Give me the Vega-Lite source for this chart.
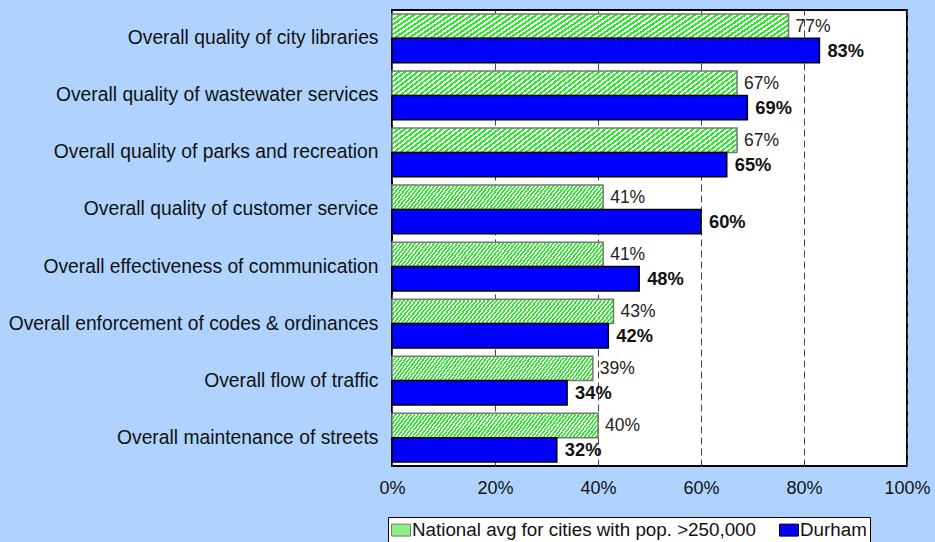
{
  "$schema": "https://vega.github.io/schema/vega-lite/v6.json",
  "width": 515,
  "height": 456,
  "autosize": "none",
  "padding": {"left": 392, "top": 10, "right": 28, "bottom": 76},
  "background": "#afd3fe",
  "config": {
    "view": {"fill": "white", "stroke": "black", "strokeWidth": 2},
    "font": "Liberation Sans"
  },
  "data": {
    "values": [
      {"item": "Overall quality of city libraries", "series": "National avg for cities with pop. >250,000", "value": 0.77},
      {"item": "Overall quality of city libraries", "series": "Durham", "value": 0.83},
      {"item": "Overall quality of wastewater services", "series": "National avg for cities with pop. >250,000", "value": 0.67},
      {"item": "Overall quality of wastewater services", "series": "Durham", "value": 0.69},
      {"item": "Overall quality of parks and recreation\u00a0", "series": "National avg for cities with pop. >250,000", "value": 0.67},
      {"item": "Overall quality of parks and recreation\u00a0", "series": "Durham", "value": 0.65},
      {"item": "Overall quality of customer service", "series": "National avg for cities with pop. >250,000", "value": 0.41},
      {"item": "Overall quality of customer service", "series": "Durham", "value": 0.60},
      {"item": "Overall effectiveness of communication", "series": "National avg for cities with pop. >250,000", "value": 0.41},
      {"item": "Overall effectiveness of communication", "series": "Durham", "value": 0.48},
      {"item": "Overall enforcement of codes & ordinances", "series": "National avg for cities with pop. >250,000", "value": 0.43},
      {"item": "Overall enforcement of codes & ordinances", "series": "Durham", "value": 0.42},
      {"item": "Overall flow of traffic", "series": "National avg for cities with pop. >250,000", "value": 0.39},
      {"item": "Overall flow of traffic", "series": "Durham", "value": 0.34},
      {"item": "Overall maintenance of streets", "series": "National avg for cities with pop. >250,000", "value": 0.40},
      {"item": "Overall maintenance of streets", "series": "Durham", "value": 0.32}
    ]
  },
  "encoding": {
    "y": {
      "field": "item",
      "type": "nominal",
      "sort": null,
      "title": null,
      "scale": {"paddingInner": 0.146, "paddingOuter": 0.07},
      "axis": {
        "ticks": false,
        "domain": false,
        "labelPadding": 14,
        "labelFontSize": 19.3,
        "labelColor": "#111",
        "labelLimit": 0,
        "grid": false
      }
    },
    "yOffset": {
      "field": "series",
      "type": "nominal",
      "sort": ["National avg for cities with pop. >250,000", "Durham"],
      "scale": {"paddingInner": 0, "paddingOuter": 0}
    },
    "x": {
      "field": "value",
      "type": "quantitative",
      "title": null,
      "scale": {"domain": [0, 1], "nice": false},
      "axis": {
        "values": [0, 0.2, 0.4, 0.6, 0.8, 1],
        "format": ".0%",
        "domain": false,
        "grid": true,
        "gridDash": [7, 4],
        "gridColor": "#444",
        "gridWidth": 1,
        "ticks": false,
        "labelPadding": 13,
        "labelFontSize": 18,
        "labelColor": "#111",
        "labelFlush": false
      }
    }
  },
  "layer": [
    {
      "mark": {"type": "bar", "strokeWidth": 1.5},
      "encoding": {
        "color": {
          "condition": {
            "test": "datum.series !== 'Durham'",
            "value": {
              "gradient": "linear", "x1": 0, "y1": 0, "x2": 1.0813, "y2": 0.0973,
              "stops": [
                {"offset":0,"color":"#2e2"},
                {"offset":0.0083,"color":"#2e2"},{"offset":0.0083,"color":"#fff"},{"offset":0.0167,"color":"#fff"},{"offset":0.0167,"color":"#2e2"},
                {"offset":0.025,"color":"#2e2"},{"offset":0.025,"color":"#fff"},{"offset":0.0333,"color":"#fff"},{"offset":0.0333,"color":"#2e2"},
                {"offset":0.0417,"color":"#2e2"},{"offset":0.0417,"color":"#fff"},{"offset":0.05,"color":"#fff"},{"offset":0.05,"color":"#2e2"},
                {"offset":0.0583,"color":"#2e2"},{"offset":0.0583,"color":"#fff"},{"offset":0.0667,"color":"#fff"},{"offset":0.0667,"color":"#2e2"},
                {"offset":0.075,"color":"#2e2"},{"offset":0.075,"color":"#fff"},{"offset":0.0833,"color":"#fff"},{"offset":0.0833,"color":"#2e2"},
                {"offset":0.0917,"color":"#2e2"},{"offset":0.0917,"color":"#fff"},{"offset":0.1,"color":"#fff"},{"offset":0.1,"color":"#2e2"},
                {"offset":0.1083,"color":"#2e2"},{"offset":0.1083,"color":"#fff"},{"offset":0.1167,"color":"#fff"},{"offset":0.1167,"color":"#2e2"},
                {"offset":0.125,"color":"#2e2"},{"offset":0.125,"color":"#fff"},{"offset":0.1333,"color":"#fff"},{"offset":0.1333,"color":"#2e2"},
                {"offset":0.1417,"color":"#2e2"},{"offset":0.1417,"color":"#fff"},{"offset":0.15,"color":"#fff"},{"offset":0.15,"color":"#2e2"},
                {"offset":0.1583,"color":"#2e2"},{"offset":0.1583,"color":"#fff"},{"offset":0.1667,"color":"#fff"},{"offset":0.1667,"color":"#2e2"},
                {"offset":0.175,"color":"#2e2"},{"offset":0.175,"color":"#fff"},{"offset":0.1833,"color":"#fff"},{"offset":0.1833,"color":"#2e2"},
                {"offset":0.1917,"color":"#2e2"},{"offset":0.1917,"color":"#fff"},{"offset":0.2,"color":"#fff"},{"offset":0.2,"color":"#2e2"},
                {"offset":0.2083,"color":"#2e2"},{"offset":0.2083,"color":"#fff"},{"offset":0.2167,"color":"#fff"},{"offset":0.2167,"color":"#2e2"},
                {"offset":0.225,"color":"#2e2"},{"offset":0.225,"color":"#fff"},{"offset":0.2333,"color":"#fff"},{"offset":0.2333,"color":"#2e2"},
                {"offset":0.2417,"color":"#2e2"},{"offset":0.2417,"color":"#fff"},{"offset":0.25,"color":"#fff"},{"offset":0.25,"color":"#2e2"},
                {"offset":0.2583,"color":"#2e2"},{"offset":0.2583,"color":"#fff"},{"offset":0.2667,"color":"#fff"},{"offset":0.2667,"color":"#2e2"},
                {"offset":0.275,"color":"#2e2"},{"offset":0.275,"color":"#fff"},{"offset":0.2833,"color":"#fff"},{"offset":0.2833,"color":"#2e2"},
                {"offset":0.2917,"color":"#2e2"},{"offset":0.2917,"color":"#fff"},{"offset":0.3,"color":"#fff"},{"offset":0.3,"color":"#2e2"},
                {"offset":0.3083,"color":"#2e2"},{"offset":0.3083,"color":"#fff"},{"offset":0.3167,"color":"#fff"},{"offset":0.3167,"color":"#2e2"},
                {"offset":0.325,"color":"#2e2"},{"offset":0.325,"color":"#fff"},{"offset":0.3333,"color":"#fff"},{"offset":0.3333,"color":"#2e2"},
                {"offset":0.3417,"color":"#2e2"},{"offset":0.3417,"color":"#fff"},{"offset":0.35,"color":"#fff"},{"offset":0.35,"color":"#2e2"},
                {"offset":0.3583,"color":"#2e2"},{"offset":0.3583,"color":"#fff"},{"offset":0.3667,"color":"#fff"},{"offset":0.3667,"color":"#2e2"},
                {"offset":0.375,"color":"#2e2"},{"offset":0.375,"color":"#fff"},{"offset":0.3833,"color":"#fff"},{"offset":0.3833,"color":"#2e2"},
                {"offset":0.3917,"color":"#2e2"},{"offset":0.3917,"color":"#fff"},{"offset":0.4,"color":"#fff"},{"offset":0.4,"color":"#2e2"},
                {"offset":0.4083,"color":"#2e2"},{"offset":0.4083,"color":"#fff"},{"offset":0.4167,"color":"#fff"},{"offset":0.4167,"color":"#2e2"},
                {"offset":0.425,"color":"#2e2"},{"offset":0.425,"color":"#fff"},{"offset":0.4333,"color":"#fff"},{"offset":0.4333,"color":"#2e2"},
                {"offset":0.4417,"color":"#2e2"},{"offset":0.4417,"color":"#fff"},{"offset":0.45,"color":"#fff"},{"offset":0.45,"color":"#2e2"},
                {"offset":0.4583,"color":"#2e2"},{"offset":0.4583,"color":"#fff"},{"offset":0.4667,"color":"#fff"},{"offset":0.4667,"color":"#2e2"},
                {"offset":0.475,"color":"#2e2"},{"offset":0.475,"color":"#fff"},{"offset":0.4833,"color":"#fff"},{"offset":0.4833,"color":"#2e2"},
                {"offset":0.4917,"color":"#2e2"},{"offset":0.4917,"color":"#fff"},{"offset":0.5,"color":"#fff"},{"offset":0.5,"color":"#2e2"},
                {"offset":0.5083,"color":"#2e2"},{"offset":0.5083,"color":"#fff"},{"offset":0.5167,"color":"#fff"},{"offset":0.5167,"color":"#2e2"},
                {"offset":0.525,"color":"#2e2"},{"offset":0.525,"color":"#fff"},{"offset":0.5333,"color":"#fff"},{"offset":0.5333,"color":"#2e2"},
                {"offset":0.5417,"color":"#2e2"},{"offset":0.5417,"color":"#fff"},{"offset":0.55,"color":"#fff"},{"offset":0.55,"color":"#2e2"},
                {"offset":0.5583,"color":"#2e2"},{"offset":0.5583,"color":"#fff"},{"offset":0.5667,"color":"#fff"},{"offset":0.5667,"color":"#2e2"},
                {"offset":0.575,"color":"#2e2"},{"offset":0.575,"color":"#fff"},{"offset":0.5833,"color":"#fff"},{"offset":0.5833,"color":"#2e2"},
                {"offset":0.5917,"color":"#2e2"},{"offset":0.5917,"color":"#fff"},{"offset":0.6,"color":"#fff"},{"offset":0.6,"color":"#2e2"},
                {"offset":0.6083,"color":"#2e2"},{"offset":0.6083,"color":"#fff"},{"offset":0.6167,"color":"#fff"},{"offset":0.6167,"color":"#2e2"},
                {"offset":0.625,"color":"#2e2"},{"offset":0.625,"color":"#fff"},{"offset":0.6333,"color":"#fff"},{"offset":0.6333,"color":"#2e2"},
                {"offset":0.6417,"color":"#2e2"},{"offset":0.6417,"color":"#fff"},{"offset":0.65,"color":"#fff"},{"offset":0.65,"color":"#2e2"},
                {"offset":0.6583,"color":"#2e2"},{"offset":0.6583,"color":"#fff"},{"offset":0.6667,"color":"#fff"},{"offset":0.6667,"color":"#2e2"},
                {"offset":0.675,"color":"#2e2"},{"offset":0.675,"color":"#fff"},{"offset":0.6833,"color":"#fff"},{"offset":0.6833,"color":"#2e2"},
                {"offset":0.6917,"color":"#2e2"},{"offset":0.6917,"color":"#fff"},{"offset":0.7,"color":"#fff"},{"offset":0.7,"color":"#2e2"},
                {"offset":0.7083,"color":"#2e2"},{"offset":0.7083,"color":"#fff"},{"offset":0.7167,"color":"#fff"},{"offset":0.7167,"color":"#2e2"},
                {"offset":0.725,"color":"#2e2"},{"offset":0.725,"color":"#fff"},{"offset":0.7333,"color":"#fff"},{"offset":0.7333,"color":"#2e2"},
                {"offset":0.7417,"color":"#2e2"},{"offset":0.7417,"color":"#fff"},{"offset":0.75,"color":"#fff"},{"offset":0.75,"color":"#2e2"},
                {"offset":0.7583,"color":"#2e2"},{"offset":0.7583,"color":"#fff"},{"offset":0.7667,"color":"#fff"},{"offset":0.7667,"color":"#2e2"},
                {"offset":0.775,"color":"#2e2"},{"offset":0.775,"color":"#fff"},{"offset":0.7833,"color":"#fff"},{"offset":0.7833,"color":"#2e2"},
                {"offset":0.7917,"color":"#2e2"},{"offset":0.7917,"color":"#fff"},{"offset":0.8,"color":"#fff"},{"offset":0.8,"color":"#2e2"},
                {"offset":0.8083,"color":"#2e2"},{"offset":0.8083,"color":"#fff"},{"offset":0.8167,"color":"#fff"},{"offset":0.8167,"color":"#2e2"},
                {"offset":0.825,"color":"#2e2"},{"offset":0.825,"color":"#fff"},{"offset":0.8333,"color":"#fff"},{"offset":0.8333,"color":"#2e2"},
                {"offset":0.8417,"color":"#2e2"},{"offset":0.8417,"color":"#fff"},{"offset":0.85,"color":"#fff"},{"offset":0.85,"color":"#2e2"},
                {"offset":0.8583,"color":"#2e2"},{"offset":0.8583,"color":"#fff"},{"offset":0.8667,"color":"#fff"},{"offset":0.8667,"color":"#2e2"},
                {"offset":0.875,"color":"#2e2"},{"offset":0.875,"color":"#fff"},{"offset":0.8833,"color":"#fff"},{"offset":0.8833,"color":"#2e2"},
                {"offset":0.8917,"color":"#2e2"},{"offset":0.8917,"color":"#fff"},{"offset":0.9,"color":"#fff"},{"offset":0.9,"color":"#2e2"},
                {"offset":0.9083,"color":"#2e2"},{"offset":0.9083,"color":"#fff"},{"offset":0.9167,"color":"#fff"},{"offset":0.9167,"color":"#2e2"},
                {"offset":0.925,"color":"#2e2"},{"offset":0.925,"color":"#fff"},{"offset":0.9333,"color":"#fff"},{"offset":0.9333,"color":"#2e2"},
                {"offset":0.9417,"color":"#2e2"},{"offset":0.9417,"color":"#fff"},{"offset":0.95,"color":"#fff"},{"offset":0.95,"color":"#2e2"},
                {"offset":0.9583,"color":"#2e2"},{"offset":0.9583,"color":"#fff"},{"offset":0.9667,"color":"#fff"},{"offset":0.9667,"color":"#2e2"},
                {"offset":0.975,"color":"#2e2"},{"offset":0.975,"color":"#fff"},{"offset":0.9833,"color":"#fff"},{"offset":0.9833,"color":"#2e2"},
                {"offset":0.9917,"color":"#2e2"},{"offset":0.9917,"color":"#fff"},{"offset":1,"color":"#fff"}
              ]
            }
          },
          "field": "series",
          "type": "nominal",
          "title": null,
          "scale": {"domain": ["National avg for cities with pop. >250,000", "Durham"], "range": ["#8cf084", "#0000ff"]},
          "legend": {
            "orient": "none",
            "legendX": -4,
            "legendY": 507,
            "direction": "horizontal",
            "fillColor": "white",
            "strokeColor": "black",
            "padding": 3,
            "labelFontSize": 18.8,
            "labelColor": "#111",
            "symbolType": "M-1,-0.63H1V0.63H-1Z",
            "symbolSize": 361,
            "symbolStrokeColor": "black",
            "symbolStrokeWidth": 1,
            "symbolOpacity": 1,
            "columnPadding": 20,
            "labelOffset": 1,
            "labelLimit": 0
          }
        },
        "stroke": {
          "field": "series",
          "type": "nominal",
          "legend": null,
          "scale": {"domain": ["National avg for cities with pop. >250,000", "Durham"], "range": ["#777777", "#000000"]}
        }
      }
    },
    {
      "transform": [{"filter": "datum.series === 'Durham'"}],
      "mark": {"type": "text", "align": "left", "baseline": "middle", "dx": 8, "dy": 1, "fontWeight": "bold", "fontSize": 18.3, "color": "#111"},
      "encoding": {"text": {"field": "value", "type": "quantitative", "format": ".0%"}}
    },
    {
      "transform": [{"filter": "datum.series !== 'Durham'"}],
      "mark": {"type": "text", "align": "left", "baseline": "middle", "dx": 7, "dy": 1, "fontSize": 17.5, "color": "#222"},
      "encoding": {"text": {"field": "value", "type": "quantitative", "format": ".0%"}}
    }
  ]
}
